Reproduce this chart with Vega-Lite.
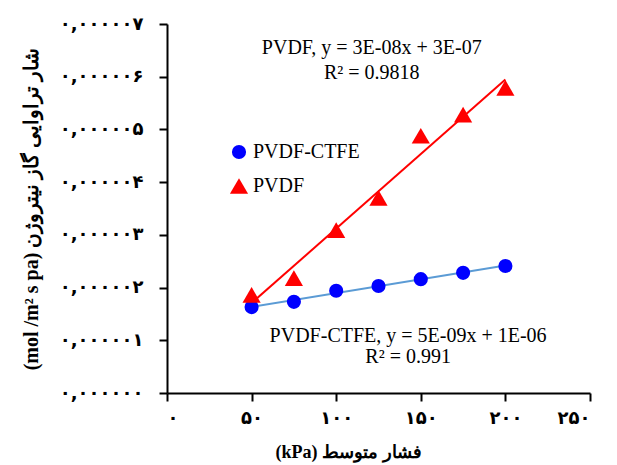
{
  "$schema": "https://vega.github.io/schema/vega-lite/v6.json",
  "width": 423,
  "height": 369,
  "autosize": {"type": "none"},
  "padding": {"left": 167, "top": 24, "right": 27, "bottom": 72},
  "background": "white",
  "config": {
    "view": {"stroke": null},
    "font": "Liberation Serif",
    "axis": {"grid": false, "domainColor": "black", "domainWidth": 2, "tickColor": "black", "tickWidth": 2, "tickSize": 8, "labelColor": "black", "titleColor": "black", "labelFont": "DejaVu Sans", "labelFontWeight": "bold", "labelFontSize": 18, "titleFont": "Liberation Serif", "titleFontWeight": "bold", "titleFontSize": 18}
  },
  "datasets": {
    "pts": [
      {"series": "PVDF-CTFE", "p": 50, "flux": 1.63e-6},
      {"series": "PVDF-CTFE", "p": 75, "flux": 1.73e-6},
      {"series": "PVDF-CTFE", "p": 100, "flux": 1.94e-6},
      {"series": "PVDF-CTFE", "p": 125, "flux": 2.03e-6},
      {"series": "PVDF-CTFE", "p": 150, "flux": 2.16e-6},
      {"series": "PVDF-CTFE", "p": 175, "flux": 2.28e-6},
      {"series": "PVDF-CTFE", "p": 200, "flux": 2.41e-6},
      {"series": "PVDF", "p": 50, "flux": 1.86e-6},
      {"series": "PVDF", "p": 75, "flux": 2.18e-6},
      {"series": "PVDF", "p": 100, "flux": 3.09e-6},
      {"series": "PVDF", "p": 125, "flux": 3.70e-6},
      {"series": "PVDF", "p": 150, "flux": 4.88e-6},
      {"series": "PVDF", "p": 175, "flux": 5.28e-6},
      {"series": "PVDF", "p": 200, "flux": 5.79e-6}
    ],
    "notes": [
      {"p": 121, "flux": 6.55e-6, "label": "PVDF, y = 3E-08x + 3E-07"},
      {"p": 121, "flux": 6.07e-6, "label": "R² = 0.9818"},
      {"p": 142.5, "flux": 1.08e-6, "label": "PVDF-CTFE, y = 5E-09x + 1E-06"},
      {"p": 142.5, "flux": 0.68e-6, "label": "R² = 0.991"}
    ]
  },
  "layer": [
    {
      "data": {"name": "pts"},
      "transform": [
        {"filter": "datum.series == 'PVDF'"},
        {"regression": "flux", "on": "p", "extent": [50, 200]}
      ],
      "mark": {"type": "line", "color": "#FF0000", "strokeWidth": 2},
      "encoding": {
        "x": {"field": "p", "type": "quantitative"},
        "y": {"field": "flux", "type": "quantitative"}
      }
    },
    {
      "data": {"name": "pts"},
      "transform": [
        {"filter": "datum.series == 'PVDF-CTFE'"},
        {"regression": "flux", "on": "p", "extent": [50, 200]}
      ],
      "mark": {"type": "line", "color": "#5B9BD5", "strokeWidth": 2},
      "encoding": {
        "x": {"field": "p", "type": "quantitative"},
        "y": {"field": "flux", "type": "quantitative"}
      }
    },
    {
      "data": {"name": "pts"},
      "mark": {"type": "point", "filled": true, "opacity": 1},
      "encoding": {
        "x": {
          "field": "p", "type": "quantitative",
          "scale": {"domain": [0, 250], "nice": false},
          "axis": {"values": [0, 50, 100, 150, 200, 250], "labelExpr": "['۰','۵۰','۱۰۰','۱۵۰','۲۰۰','۲۵۰'][round(datum.value/50)]", "labelPadding": 8, "title": "(kPa) فشار متوسط", "titlePadding": 16, "titleX": 181}
        },
        "y": {
          "field": "flux", "type": "quantitative",
          "scale": {"domain": [0, 7e-6], "nice": false, "zero": true},
          "axis": {"values": [0, 1e-6, 2e-6, 3e-6, 4e-6, 5e-6, 6e-6, 7e-6], "labelExpr": "['۰,۰۰۰۰۰۰','۰,۰۰۰۰۰۱','۰,۰۰۰۰۰۲','۰,۰۰۰۰۰۳','۰,۰۰۰۰۰۴','۰,۰۰۰۰۰۵','۰,۰۰۰۰۰۶','۰,۰۰۰۰۰۷'][round(datum.value*1e6)]", "labelPadding": 16, "title": "(mol /m² s pa) شار تراوایی گاز نیتروژن", "titlePadding": 18, "titleFontSize": 20}
        },
        "color": {
          "field": "series", "type": "nominal",
          "scale": {"domain": ["PVDF-CTFE", "PVDF"], "range": ["#0000FF", "#FF0000"]},
          "legend": {"title": null, "orient": "none", "legendX": 62, "legendY": 118, "labelFont": "Liberation Serif", "labelFontSize": 20, "labelColor": "black", "symbolSize": 160, "rowPadding": 14, "labelOffset": 4, "padding": 0, "symbolStrokeWidth": 0}
        },
        "shape": {
          "field": "series", "type": "nominal",
          "scale": {"domain": ["PVDF-CTFE", "PVDF"], "range": ["circle", "triangle-up"]}
        },
        "size": {
          "field": "series", "type": "nominal",
          "scale": {"domain": ["PVDF-CTFE", "PVDF"], "range": [200, 330]},
          "legend": null
        }
      }
    },
    {
      "data": {"name": "notes"},
      "mark": {"type": "text", "font": "Liberation Serif", "fontSize": 20, "color": "black", "align": "center", "baseline": "middle"},
      "encoding": {
        "x": {"field": "p", "type": "quantitative"},
        "y": {"field": "flux", "type": "quantitative"},
        "text": {"field": "label"}
      }
    }
  ]
}
